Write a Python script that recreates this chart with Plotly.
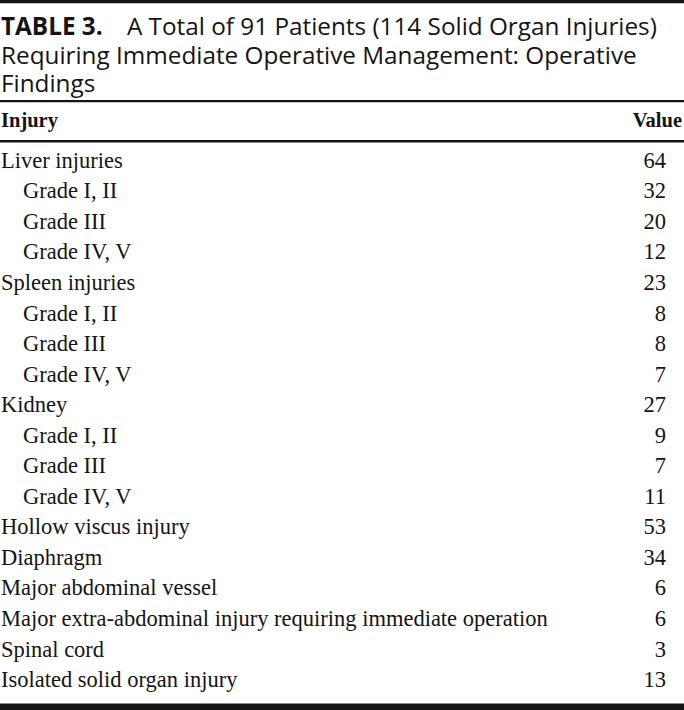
import plotly.graph_objects as go

# ---- data ----
title_bold = "TABLE 3."
title_lines = [
    "A Total of 91 Patients (114 Solid Organ Injuries)",
    "Requiring Immediate Operative Management: Operative",
    "Findings",
]
header = ["Injury", "Value"]
injuries = [
    "Liver injuries", "Grade I, II", "Grade III", "Grade IV, V",
    "Spleen injuries", "Grade I, II", "Grade III", "Grade IV, V",
    "Kidney", "Grade I, II", "Grade III", "Grade IV, V",
    "Hollow viscus injury", "Diaphragm", "Major abdominal vessel",
    "Major extra-abdominal injury requiring immediate operation",
    "Spinal cord", "Isolated solid organ injury",
]
levels = [0, 1, 1, 1, 0, 1, 1, 1, 0, 1, 1, 1, 0, 0, 0, 0, 0, 0]
values = [64, 32, 20, 12, 23, 8, 8, 7, 27, 9, 7, 11, 53, 34, 6, 6, 3, 13]

# ---- layout constants (pixels) ----
W, H = 684, 710
INK = "#141414"
SERIF = "Liberation Serif"
SANS = "Open Sans"
FS_ROW = 22.5
FS_HEAD = 20.5
FS_TITLE = 24.3
MID = 0.35  # baseline offset from middle (em)
row_base0, row_step = 170, 30.55
title_base0, title_step = 37.5, 28.6
head_base = 129
x_left, x_indent, x_val, x_head_val = 1, 23, 666, 682

row_y = [row_base0 + i * row_step - MID * FS_ROW for i in range(len(injuries))]
row_x = [x_left if lv == 0 else x_indent for lv in levels]

fig = go.Figure()

# title
title_text = ["<b>" + title_bold + "</b>\u2003" + title_lines[0]] + title_lines[1:]
fig.add_trace(go.Scatter(
    x=[x_left] * len(title_text),
    y=[title_base0 + i * title_step - MID * FS_TITLE for i in range(len(title_text))],
    text=title_text, mode="text", textposition="middle right",
    textfont=dict(family=SANS, size=FS_TITLE, color=INK), hoverinfo="skip",
))

# header
fig.add_trace(go.Scatter(
    x=[x_left], y=[head_base - MID * FS_HEAD], text=["<b>" + header[0] + "</b>"],
    mode="text", textposition="middle right",
    textfont=dict(family=SERIF, size=FS_HEAD, color=INK), hoverinfo="skip",
))
fig.add_trace(go.Scatter(
    x=[x_head_val], y=[head_base - MID * FS_HEAD], text=["<b>" + header[1] + "</b>"],
    mode="text", textposition="middle left",
    textfont=dict(family=SERIF, size=FS_HEAD, color=INK), hoverinfo="skip",
))

# rows
fig.add_trace(go.Scatter(
    x=row_x, y=row_y, text=injuries, mode="text", textposition="middle right",
    textfont=dict(family=SERIF, size=FS_ROW, color=INK), hoverinfo="skip",
))
fig.add_trace(go.Scatter(
    x=[x_val] * len(values), y=row_y, text=[str(v) for v in values],
    mode="text", textposition="middle left",
    textfont=dict(family=SERIF, size=FS_ROW, color=INK), hoverinfo="skip",
))

# rules
shapes = [
    dict(type="rect", x0=0, x1=W, y0=0, y1=3.2, fillcolor=INK, line_width=0),
    dict(type="rect", x0=0, x1=W, y0=100, y1=102.2, fillcolor=INK, line_width=0),
    dict(type="rect", x0=0, x1=W, y0=140, y1=142.6, fillcolor=INK, line_width=0),
    dict(type="rect", x0=0, x1=W, y0=703.5, y1=H, fillcolor=INK, line_width=0),
]

fig.update_layout(
    width=W, height=H, margin=dict(l=0, r=0, t=0, b=0),
    paper_bgcolor="white", plot_bgcolor="white", showlegend=False,
    xaxis=dict(range=[0, W], visible=False, fixedrange=True),
    yaxis=dict(range=[H, 0], visible=False, fixedrange=True),
    shapes=shapes,
)

fig.write_html(
    "out.html",
    config={"displayModeBar": False},
    post_script="document.body.style.margin='0';document.body.style.overflow='hidden';"
                "document.documentElement.style.overflow='hidden';",
)
